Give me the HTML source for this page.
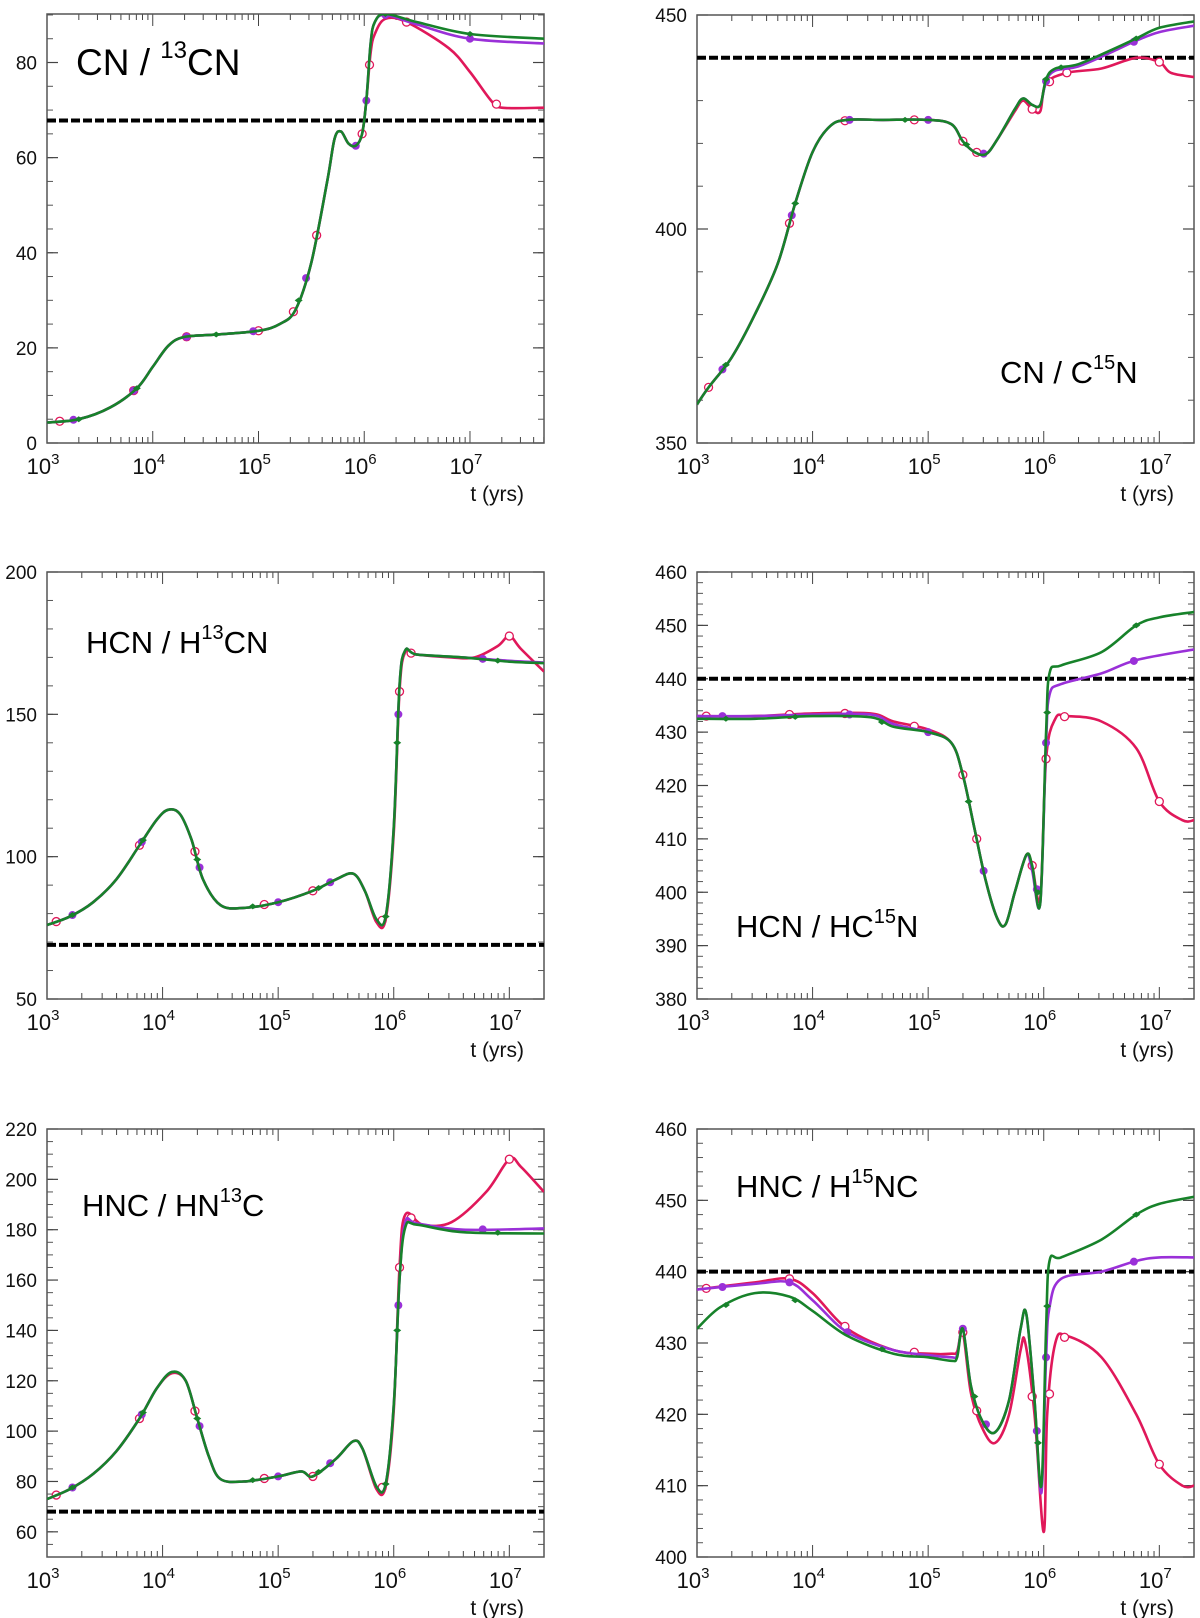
<!DOCTYPE html>
<html><head><meta charset="utf-8">
<style>
html,body{margin:0;padding:0;background:#fff;}
svg{display:block;font-family:"Liberation Sans",Arial,sans-serif;}
</style></head>
<body>
<svg id="fig" width="1200" height="1618" viewBox="0 0 1200 1618" xmlns="http://www.w3.org/2000/svg"></svg>
<script>
// ---------- Panel 1: CN / 13CN ----------
const p1GreenT=[3.0,3.3,3.6,3.85,4.0,4.15,4.3,4.6,5.0,5.2,5.35,5.5,5.65,5.72,5.78,5.85,5.92,5.98,6.02,6.06,6.1,6.2,6.5,7.0,7.7];
const p1GreenV=[4.3,5,7.5,11.5,16,20.5,22.3,22.8,23.6,25,28,38,55,64,65.5,63,62.5,65,72,84,88.5,90.2,88.5,86,85];
const p1PurpleT=[3.0,3.3,3.6,3.85,4.0,4.15,4.3,4.6,5.0,5.2,5.35,5.5,5.65,5.72,5.78,5.85,5.92,5.98,6.02,6.06,6.1,6.2,6.5,7.0,7.7];
const p1PurpleV=[4.3,5,7.5,11.5,16,20.5,22.3,22.8,23.6,25,28,38,55,64,65.5,63,62.5,65,72,84,88.5,90,88,85,84];
const p1RedT=[3.0,3.3,3.6,3.85,4.0,4.15,4.3,4.6,5.0,5.2,5.35,5.5,5.65,5.72,5.78,5.85,5.92,5.98,6.02,6.06,6.1,6.2,6.4,6.8,7.0,7.2,7.3,7.7];
const p1RedV=[4.3,5,7.5,11.5,16,20.5,22.3,22.8,23.6,25,28,38,55,64,65.5,63,62.5,65,72,82,86,89.2,88.5,83,78,72,70.5,70.5];
const p1RedMk=[3.12,3.82,4.32,5.0,5.33,5.55,5.98,6.05,6.4,7.25];
const p1PurpleMk=[3.25,3.82,4.32,4.95,5.45,5.92,6.02,6.2,7.0];
const p1GreenMk=[3.3,3.85,4.6,5.38,6.2,7.0];
// ---------- Panel 2: CN / C15N ----------
const p2GreenT=[3.0,3.1,3.3,3.5,3.7,3.85,4.0,4.15,4.3,4.6,5.0,5.2,5.3,5.4,5.5,5.6,5.75,5.82,5.9,5.97,6.02,6.1,6.3,6.6,6.8,7.0,7.3];
const p2GreenV=[359,363,370,380,392,406,418,424,425.5,425.5,425.5,424.5,420.5,418,417.5,421,428,430.5,429,429,435,437.5,438.5,442,444.5,447,448.5];
const p2PurpleT=[3.0,3.1,3.3,3.5,3.7,3.85,4.0,4.15,4.3,4.6,5.0,5.2,5.3,5.4,5.5,5.6,5.75,5.82,5.9,5.97,6.02,6.1,6.3,6.6,6.8,7.0,7.3];
const p2PurpleV=[359,363,370,380,392,406,418,424,425.5,425.5,425.5,424.5,420.5,418,417.5,421,428,430.5,429,429,434.5,437,438,441.5,444,446,447.5];
const p2RedT=[3.0,3.1,3.3,3.5,3.7,3.85,4.0,4.15,4.3,4.6,5.0,5.2,5.3,5.4,5.5,5.6,5.75,5.82,5.9,5.97,6.02,6.2,6.5,6.8,7.0,7.1,7.3];
const p2RedV=[359,363,370,380,392,406,418,424,425.5,425.5,425.5,424.5,420.5,418,417.5,421,427.5,430,428,427.5,434,436.5,437.5,440,439,436.5,435.5];
const p2RedMk=[3.1,3.8,4.28,4.88,5.3,5.42,5.9,6.05,6.2,7.0];
const p2PurpleMk=[3.22,3.82,4.32,5.0,5.48,6.02,6.78];
const p2GreenMk=[3.25,3.85,4.8,5.33,6.02,6.15,6.8];
// ---------- Panel 3: HCN / H13CN ----------
const p3GreenT=[3.0,3.2,3.4,3.6,3.8,3.95,4.05,4.15,4.25,4.35,4.5,4.7,5.0,5.3,5.5,5.65,5.75,5.85,5.93,6.0,6.05,6.1,6.2,6.6,7.0,7.3];
const p3GreenV=[76,79,84,92,104,113,116.5,115,106,92,83,82,84,88,92,94,88,78,79,110,160,172.5,171,170,168.5,168];
const p3PurpleT=p3GreenT;
const p3PurpleV=[76,79,84,92,104,113,116.5,115,106,92,83,82,84,88,92,94,88,78,79,110,160,172.5,171,170,168.8,168.2];
const p3RedT=[3.0,3.2,3.4,3.6,3.8,3.95,4.05,4.15,4.25,4.35,4.5,4.7,5.0,5.3,5.5,5.65,5.75,5.85,5.93,6.0,6.05,6.1,6.2,6.5,6.7,6.9,7.0,7.1,7.3];
const p3RedV=[76,79,84,92,104,113,116.5,115,106,92,83,82,84,88,92,94,88,77,78,108,158,172,171,170,170,174,177.5,173,165];
const p3RedMk=[3.08,3.8,4.28,4.88,5.3,5.9,6.05,6.15,7.0];
const p3PurpleMk=[3.22,3.82,4.32,5.0,5.45,6.04,6.77];
const p3GreenMk=[3.22,3.83,4.3,4.78,5.35,5.93,6.03,6.9];
// ---------- Panel 4: HCN / HC15N ----------
const p4GreenT=[3.0,3.5,4.0,4.5,4.7,5.0,5.2,5.3,5.4,5.5,5.6,5.67,5.75,5.85,5.9,5.97,6.02,6.05,6.15,6.5,6.8,7.0,7.3];
const p4GreenV=[432.5,432.5,433,432.8,431,430,428,422,412,402,395,394,400,407,405,398,430,441,442.5,445,450,451.5,452.5];
const p4PurpleT=[3.0,3.5,4.0,4.5,4.7,5.0,5.2,5.3,5.4,5.5,5.6,5.67,5.75,5.85,5.9,5.97,6.02,6.05,6.15,6.5,6.8,7.3];
const p4PurpleV=[433,433,433.3,433.3,431.5,430,428,422,412,402,395,394,400,407,404,398,428,437,439,441,443.5,445.5];
const p4RedT=[3.0,3.5,4.0,4.5,4.7,5.0,5.2,5.3,5.4,5.5,5.6,5.67,5.75,5.85,5.9,5.97,6.02,6.1,6.2,6.5,6.8,7.0,7.2,7.3];
const p4RedV=[433,433,433.5,433.5,432,430.5,428,422,412,402,395,394,400,407,405,399,425,432.5,433,432,427,417,413.5,413.5];
const p4RedMk=[3.08,3.8,4.28,4.88,5.3,5.42,5.9,6.02,6.18,7.0];
const p4PurpleMk=[3.22,4.32,5.0,5.48,5.94,6.02,6.78];
const p4GreenMk=[3.25,3.85,4.6,5.35,5.95,6.03,6.8];
// ---------- Panel 5: HNC / HN13C ----------
const p5GreenT=[3.0,3.2,3.4,3.6,3.8,3.95,4.08,4.2,4.3,4.4,4.5,4.7,5.0,5.2,5.3,5.5,5.65,5.73,5.85,5.93,6.0,6.05,6.1,6.2,6.6,7.3];
const p5GreenV=[73,77,83,92,105,117,123.5,120,105,90,81,80,82,84,82,89,96,93,78,79,110,160,181,182,179,178.5];
const p5PurpleT=p5GreenT;
const p5PurpleV=[73,77,83,92,105,117,123.5,120,105,90,81,80,82,84,82,89,96,93,78,79,110,160,183,182.5,180,180.5];
const p5RedT=[3.0,3.2,3.4,3.6,3.8,3.95,4.08,4.2,4.3,4.4,4.5,4.7,5.0,5.2,5.3,5.5,5.65,5.73,5.85,5.93,6.0,6.05,6.1,6.25,6.5,6.8,7.0,7.1,7.3];
const p5RedV=[73,77,83,92,105,117,123,120,105,90,81,80,82,84,82,89,96,93,77,78,108,165,186,182,183,195,208,205,195];
const p5RedMk=[3.08,3.8,4.28,4.88,5.3,5.9,6.05,6.15,7.0];
const p5PurpleMk=[3.22,3.82,4.32,5.0,5.45,6.04,6.77];
const p5GreenMk=[3.22,3.83,4.3,4.78,5.35,5.93,6.03,6.9];
// ---------- Panel 6: HNC / H15NC ----------
const p6GreenT=[3.0,3.2,3.5,3.8,4.0,4.3,4.7,5.0,5.2,5.25,5.3,5.37,5.47,5.58,5.7,5.8,5.85,5.92,5.98,6.02,6.05,6.15,6.5,6.8,7.0,7.3];
const p6GreenV=[432,435,437,436.5,434.5,431,428.5,428,427.5,428,432,424,419,417.5,422,432,434,422,410,432,441.5,442,444.5,448,449.5,450.5];
const p6PurpleT=[3.0,3.5,3.8,4.0,4.3,4.7,5.0,5.2,5.25,5.3,5.37,5.47,5.58,5.7,5.8,5.85,5.92,5.98,6.02,6.05,6.15,6.5,6.8,7.0,7.3];
const p6PurpleV=[437.5,438.3,438.5,436,431.5,429,428.3,428,428.3,432,424,419,417.5,422,432,434,422,409,428,435,439,440,441.5,442,442];
const p6RedT=[3.0,3.5,3.8,4.0,4.3,4.7,5.0,5.2,5.25,5.3,5.37,5.47,5.58,5.7,5.8,5.84,5.92,6.0,6.03,6.1,6.2,6.5,6.8,7.0,7.2,7.3];
const p6RedV=[437.5,438.5,439,437,432,429,428.5,428.5,428.8,431.5,423,418,416,420,429,430,420,403.5,420,430,431,428,420,413,410,410];
const p6RedMk=[3.08,3.8,4.28,4.88,5.3,5.42,5.9,6.05,6.18,7.0];
const p6PurpleMk=[3.22,3.8,4.3,5.3,5.5,5.94,6.02,6.78];
const p6GreenMk=[3.25,3.85,4.6,5.4,5.95,6.03,6.8];

// ---------- Panel configuration ----------
const panelTitles=[["CN / ","13","CN"],["CN / C","15","N"],["HCN / H","13","CN"],["HCN / HC","15","N"],["HNC / HN","13","C"],["HNC / H","15","NC"]];
const yRanges=[[0,90.2],[350,450],[50,200],[380,460],[50,220],[400,460]];
const yMajor=[[0,20,40,60,80],[350,400,450],[50,100,150,200],[380,390,400,410,420,430,440,450,460],[60,80,100,120,140,160,180,200,220],[400,410,420,430,440,450,460]];
const yMinorStep=[5,10,10,2,5,2];
const refLines=[67.8,440,69,440,68,440];
const xMaxLog=[7.7,7.3,7.3,7.3,7.3,7.3];

const NS="http://www.w3.org/2000/svg";
const svg=document.getElementById('fig');
function mk(tag,attrs,parent){const e=document.createElementNS(NS,tag);for(const k in attrs)e.setAttribute(k,attrs[k]);(parent||svg).appendChild(e);return e;}

const boxes=[
 {x0:47,x1:544,y0:14,y1:443},{x0:697,x1:1194,y0:15,y1:443},
 {x0:47,x1:544,y0:572,y1:999},{x0:697,x1:1194,y0:572,y1:999},
 {x0:47,x1:544,y0:1129,y1:1557},{x0:697,x1:1194,y0:1129,y1:1557}];
const titlePos=[[76,75],[1000,383],[86,653],[736,937],[82,1216],[736,1197]];
const titleSize=[37,31,31,31,31,31];
const series=[
 [[p1RedT,p1RedV,p1RedMk],[p1PurpleT,p1PurpleV,p1PurpleMk],[p1GreenT,p1GreenV,p1GreenMk]],
 [[p2RedT,p2RedV,p2RedMk],[p2PurpleT,p2PurpleV,p2PurpleMk],[p2GreenT,p2GreenV,p2GreenMk]],
 [[p3RedT,p3RedV,p3RedMk],[p3PurpleT,p3PurpleV,p3PurpleMk],[p3GreenT,p3GreenV,p3GreenMk]],
 [[p4RedT,p4RedV,p4RedMk],[p4PurpleT,p4PurpleV,p4PurpleMk],[p4GreenT,p4GreenV,p4GreenMk]],
 [[p5RedT,p5RedV,p5RedMk],[p5PurpleT,p5PurpleV,p5PurpleMk],[p5GreenT,p5GreenV,p5GreenMk]],
 [[p6RedT,p6RedV,p6RedMk],[p6PurpleT,p6PurpleV,p6PurpleMk],[p6GreenT,p6GreenV,p6GreenMk]]];
const colors=["#e0185a","#9a30d8","#17822a"];
const names=["model-red","model-purple","model-green"];

function interp(T,V,t){if(t<=T[0])return V[0];for(let i=1;i<T.length;i++){if(t<=T[i]){const f=(t-T[i-1])/(T[i]-T[i-1]);return V[i-1]+f*(V[i]-V[i-1]);}}return V[V.length-1];}
function smoothPath(pts){let d="M"+pts[0][0].toFixed(1)+","+pts[0][1].toFixed(1);
 for(let i=0;i<pts.length-1;i++){const p0=pts[i-1]||pts[i],p1=pts[i],p2=pts[i+1],p3=pts[i+2]||p2;
  const c1=[p1[0]+(p2[0]-p0[0])/6,p1[1]+(p2[1]-p0[1])/6],c2=[p2[0]-(p3[0]-p1[0])/6,p2[1]-(p3[1]-p1[1])/6];
  d+=" C"+c1[0].toFixed(1)+","+c1[1].toFixed(1)+" "+c2[0].toFixed(1)+","+c2[1].toFixed(1)+" "+p2[0].toFixed(1)+","+p2[1].toFixed(1);}
 return d;}

boxes.forEach((b,pi)=>{
 const g=mk('g',{});
 
 
 const [ymin,ymax]=yRanges[pi];
 const xs=l=>b.x0+(l-3)/(xMaxLog[pi]-3)*(b.x1-b.x0);
 const ys=v=>b.y1-(v-ymin)/(ymax-ymin)*(b.y1-b.y0);
 const clipId='clip'+pi;
 const cp=mk('clipPath',{id:clipId},g);mk('rect',{x:b.x0,y:b.y0,width:b.x1-b.x0,height:b.y1-b.y0},cp);
 for(let v=ymin;v<=ymax+1e-6;v+=yMinorStep[pi]){const y=ys(v);
  mk('line',{x1:b.x0,x2:b.x0+6,y1:y,y2:y,stroke:'#555','stroke-width':1},g);
  mk('line',{x1:b.x1,x2:b.x1-6,y1:y,y2:y,stroke:'#555','stroke-width':1},g);}
 yMajor[pi].forEach(v=>{const y=ys(v);
  mk('line',{x1:b.x0,x2:b.x0+11,y1:y,y2:y,stroke:'#444','stroke-width':1.2},g);
  mk('line',{x1:b.x1,x2:b.x1-11,y1:y,y2:y,stroke:'#444','stroke-width':1.2},g);
  const t=mk('text',{x:b.x0-10,y:y+7,'text-anchor':'end','font-size':19,fill:'#111'},g);t.textContent=v;
  });
 for(let d=3;d<=7;d++){for(let m=1;m<=9;m++){const l=d+Math.log10(m);if(l>xMaxLog[pi]+1e-6)continue;const x=xs(l);const len=m===1?12:6;
  mk('line',{x1:x,x2:x,y1:b.y1,y2:b.y1-len,stroke:'#444','stroke-width':1},g);
  mk('line',{x1:x,x2:x,y1:b.y0,y2:b.y0+len,stroke:'#444','stroke-width':1},g);}
  const t=mk('text',{x:xs(d)-4,y:b.y1+31,'text-anchor':'middle','font-size':22,fill:'#111'},g);
  
  t.textContent='10';const s=mk('tspan',{dy:-10,'font-size':15},t);s.textContent=String(d);}
 const xl=mk('text',{x:b.x1-20,y:b.y1+58,'text-anchor':'end','font-size':21,fill:'#111'},g);xl.textContent='t (yrs)';
 
 const fr=mk('rect',{x:b.x0,y:b.y0,width:b.x1-b.x0,height:b.y1-b.y0,fill:'none',stroke:'#555','stroke-width':1.5},g);
 
 const rl=mk('line',{x1:b.x0,x2:b.x1,y1:ys(refLines[pi]),y2:ys(refLines[pi]),stroke:'#000','stroke-width':4,'stroke-dasharray':'9,3'},g);
 
 const cg=mk('g',{'clip-path':'url(#'+clipId+')'},g);
 series[pi].forEach((s,si)=>{const [T,V,M]=s;
  const pts=T.map((t,i)=>[xs(t),ys(V[i])]);
  const p=mk('path',{d:smoothPath(pts),fill:'none',stroke:colors[si],'stroke-width':2.6,'stroke-linejoin':'round'},cg);
  
  M.forEach(t=>{const x=xs(t),y=ys(interp(T,V,t));let e;
   if(si===0)e=mk('circle',{cx:x,cy:y,r:4,fill:'#fff',stroke:colors[0],'stroke-width':1.3},cg);
   else if(si===1)e=mk('circle',{cx:x,cy:y,r:4,fill:colors[1]},cg);
   else e=mk('path',{d:`M${x-4},${y} L${x},${y-3} L${x+4},${y} L${x},${y+3}Z`,fill:colors[2]},cg);
   });});
 const [tx,ty]=titlePos[pi];const tt=panelTitles[pi];const fs=titleSize[pi];
 const ti=mk('text',{x:tx,y:ty,'font-size':fs,fill:'#000'},g);
 
 const a=mk('tspan',{},ti);a.textContent=tt[0];
 const b2=mk('tspan',{dy:-Math.round(fs*0.45),'font-size':Math.round(fs*0.65)},ti);b2.textContent=tt[1];
 const c=mk('tspan',{dy:Math.round(fs*0.45)},ti);c.textContent=tt[2];
});
</script>
</body></html>
